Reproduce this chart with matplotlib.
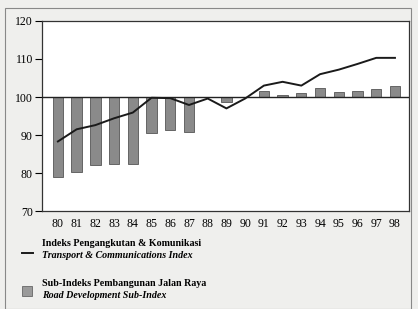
import matplotlib
matplotlib.use("Agg")
import matplotlib.pyplot as plt
from matplotlib.lines import Line2D
from matplotlib.patches import Rectangle
import numpy as np

years = ["80", "81", "82", "83", "84", "85", "86", "87", "88", "89",
         "90", "91", "92", "93", "94", "95", "96", "97", "98"]
transport_index = [88.3, 91.5, 92.6, 94.4, 95.9, 99.8, 99.7, 97.9, 99.6, 97.0,
                   99.6, 103.0, 104.0, 103.0, 106.0, 107.2, 108.7, 110.3, 110.3]
road_subindex = [79.0, 80.2, 82.0, 82.5, 82.5, 90.6, 91.3, 90.8, 100.0, 98.7,
                 100.0, 101.6, 100.4, 101.1, 102.3, 101.3, 101.7, 102.1, 102.8]
yticks = [70, 80, 90, 100, 110, 120]
baseline = 100

plt.rcParams['font.family'] = ['Liberation Serif', 'DejaVu Serif']

fig = plt.figure(figsize=(4.18, 3.09), dpi=100, facecolor='#efefed')
ax = fig.add_axes([42/418, 1 - 211/309, (409-42)/418, (211-21)/309])
ax.set_facecolor('white')

x = np.arange(len(years))
heights = [v - baseline for v in road_subindex]
ax.bar(x, heights, bottom=baseline, width=0.55, color='#8a8a8a',
       edgecolor='#555555', linewidth=0.6, zorder=2)
ax.axhline(baseline, color='#222222', linewidth=1.0, zorder=3)
ax.plot(x, transport_index, color='#1a1a1a', linewidth=1.4, zorder=4)

ax.set_xlim(-0.85, len(years) - 1 + 0.75)
ax.set_ylim(70, 120)
ax.set_yticks(yticks)
ax.set_yticklabels([str(t) for t in yticks], fontsize=8.5)
ax.set_xticks(x)
ax.set_xticklabels(years, fontsize=8.5)
ax.tick_params(axis='x', length=0, pad=5)
ax.tick_params(axis='y', length=5, width=0.8, direction='out', pad=1.5)
for s in ax.spines.values():
    s.set_color('#333333')
    s.set_linewidth(0.9)

# outer frame
fig.patches.append(Rectangle((5/418, 0), (411-5)/418, 1 - 8/309,
                             transform=fig.transFigure, fill=False,
                             edgecolor='#888888', linewidth=0.8))

# legend
fig.lines.append(Line2D([22/418, 33/418], [1 - 253/309, 1 - 253/309],
                        transform=fig.transFigure, color='#1a1a1a', linewidth=1.4))
fig.text(42/418, 1 - 243/309, "Indeks Pengangkutan & Komunikasi",
         fontsize=7.2, fontweight='bold', va='center', ha='left')
fig.text(42/418, 1 - 256/309, "Transport & Communications Index",
         fontsize=7.2, fontweight='bold', fontstyle='italic', va='center', ha='left')
fig.patches.append(Rectangle((22/418, 1 - 296/309), 10/418, 10/309,
                             transform=fig.transFigure, facecolor='#9a9a9a',
                             edgecolor='#666666', linewidth=0.6))
fig.text(42/418, 1 - 283/309, "Sub-Indeks Pembangunan Jalan Raya",
         fontsize=7.2, fontweight='bold', va='center', ha='left')
fig.text(42/418, 1 - 296/309, "Road Development Sub-Index",
         fontsize=7.2, fontweight='bold', fontstyle='italic', va='center', ha='left')

fig.savefig("out.png", dpi=100, facecolor=fig.get_facecolor())
